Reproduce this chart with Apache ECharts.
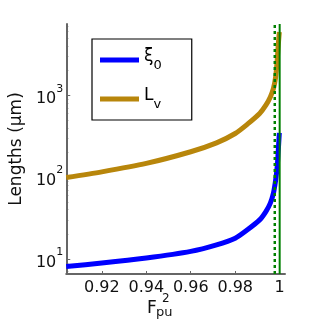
<!DOCTYPE html>
<html><head><meta charset="utf-8">
<script src="https://cdn.jsdelivr.net/npm/echarts@6/dist/echarts.min.js"></script>
<style>html,body{margin:0;padding:0;background:#fff}#c{width:316px;height:322px}</style>
</head><body><div id="c"></div>
<script>
const fpu2 = [0.904, 0.92, 0.94, 0.96, 0.9716, 0.98, 0.9855, 0.991, 0.9938, 0.9958, 0.9972, 0.9982, 0.9989, 0.9993, 0.99985];
const xi0 = [8.13, 8.93, 10.3, 12.4, 14.9, 18.0, 22.8, 30.1, 38.0, 48.2, 63.8, 92.6, 134.5, 196, 347];
const Lv  = [99, 116, 147, 204, 262, 341, 443, 598, 755, 953, 1207, 1671, 2672, 3882, 5916];
const vLineSolid = 1.0;
const vLineDotted = 0.9978;
const xTicks = [0.92, 0.94, 0.96, 0.98, 1];
const yTicks = [10, 100, 1000];
const yTickExp = ['1', '2', '3'];
const yMinorTicks = [7, 8, 9, 20, 30, 40, 50, 60, 70, 80, 90, 200, 300, 400, 500, 600, 700, 800, 900, 2000, 3000, 4000, 5000, 6000, 7000];
const xRange = [0.904, 1.0024];
const yRange = [6.57, 7400];
const seriesNames = ['xi0', 'Lv'];

const font = 'DejaVu Sans';
const chart = echarts.init(document.getElementById('c'), null, {renderer: 'canvas'});
const pair = (xs, ys) => xs.map((x, i) => [x, ys[i]]);
const vline = x => [[x, yRange[0]], [x, yRange[1]]];
const axisColor = '#666';
chart.setOption({
  animation: false,
  grid: {left: 49, right: 31, top: 24, bottom: 48, containLabel: false},
  legend: {
    orient: 'vertical', left: 92, top: 39, width: 92,
    data: seriesNames.map(n => ({name: n, icon: 'rect'})),
    borderColor: '#000', borderWidth: 1.2, padding: [9, 30, 9, 8],
    itemWidth: 39, itemHeight: 5, itemGap: 15,
    formatter: n => n === 'xi0' ? '{m|ξ}{s|0}' : '{m|L}{s|v}',
    textStyle: {
      fontFamily: font, fontSize: 17, color: '#000',
      rich: {
        m: {fontFamily: font, fontSize: 17, color: '#000', verticalAlign: 'top', lineHeight: 24},
        s: {fontFamily: font, fontSize: 13, color: '#000', verticalAlign: 'bottom', lineHeight: 24}
      }
    }
  },
  xAxis: {
    type: 'value', min: xRange[0], max: xRange[1],
    axisLine: {show: true, lineStyle: {color: axisColor, width: 2}},
    splitLine: {show: false},
    axisTick: {show: true, inside: true, length: 3, customValues: xTicks, lineStyle: {color: axisColor}},
    axisLabel: {customValues: xTicks, fontFamily: font, fontSize: 16, color: '#111', margin: 6,
      formatter: v => (Math.abs(v - 1) < 1e-9 ? '1' : v.toFixed(2))}
  },
  yAxis: [{
    type: 'log', logBase: 10, min: yRange[0], max: yRange[1],
    axisLine: {show: true, lineStyle: {color: axisColor, width: 2}},
    splitLine: {show: false},
    axisTick: {show: true, inside: true, length: 4, customValues: yTicks, lineStyle: {color: axisColor}},
    axisLabel: {customValues: yTicks, margin: 3,
      formatter: v => '{b|10}{s|' + yTickExp[yTicks.indexOf(Math.round(v))] + '}',
      rich: {
        b: {fontFamily: font, fontSize: 16, color: '#111', verticalAlign: 'bottom', lineHeight: 24},
        s: {fontFamily: font, fontSize: 11, color: '#111', verticalAlign: 'top', lineHeight: 24}
      }},
    name: 'Lengths (μm)', nameLocation: 'middle', nameGap: 33, nameRotate: 90,
    nameTextStyle: {fontFamily: font, fontSize: 17, color: '#111'}
  }, {
    type: 'log', logBase: 10, min: yRange[0], max: yRange[1], position: 'left',
    axisLine: {show: false}, splitLine: {show: false},
    axisTick: {show: true, inside: true, length: 2, customValues: yMinorTicks, lineStyle: {color: axisColor}},
    axisLabel: {show: false}
  }],
  graphic: [
    {type: 'text', left: 147, top: 300, style: {text: 'F', font: '17px "DejaVu Sans"', fill: '#111'}},
    {type: 'text', left: 162, top: 293, style: {text: '2', font: '12px "DejaVu Sans"', fill: '#111'}},
    {type: 'text', left: 156, top: 306, style: {text: 'pu', font: '13px "DejaVu Sans"', fill: '#111'}}
  ],
  series: [
    {name: 'Lv', type: 'line', data: pair(fpu2, Lv), symbol: 'none', smooth: 0.25,
      lineStyle: {color: '#B8860B', width: 5, join: 'round', cap: 'butt'}, itemStyle: {color: '#B8860B'}, z: 2},
    {name: 'xi0', type: 'line', data: pair(fpu2, xi0), symbol: 'none', smooth: 0.25,
      lineStyle: {color: '#0000FF', width: 5, join: 'round', cap: 'butt'}, itemStyle: {color: '#0000FF'}, z: 3},
    {name: 'dotted', type: 'line', data: vline(vLineDotted), symbol: 'none', z: 5,
      lineStyle: {color: '#008000', width: 2.5, type: [3, 3]}},
    {name: 'solid', type: 'line', data: vline(vLineSolid), symbol: 'none', z: 5,
      lineStyle: {color: '#008000', width: 2}}
  ]
});
</script></body></html>
